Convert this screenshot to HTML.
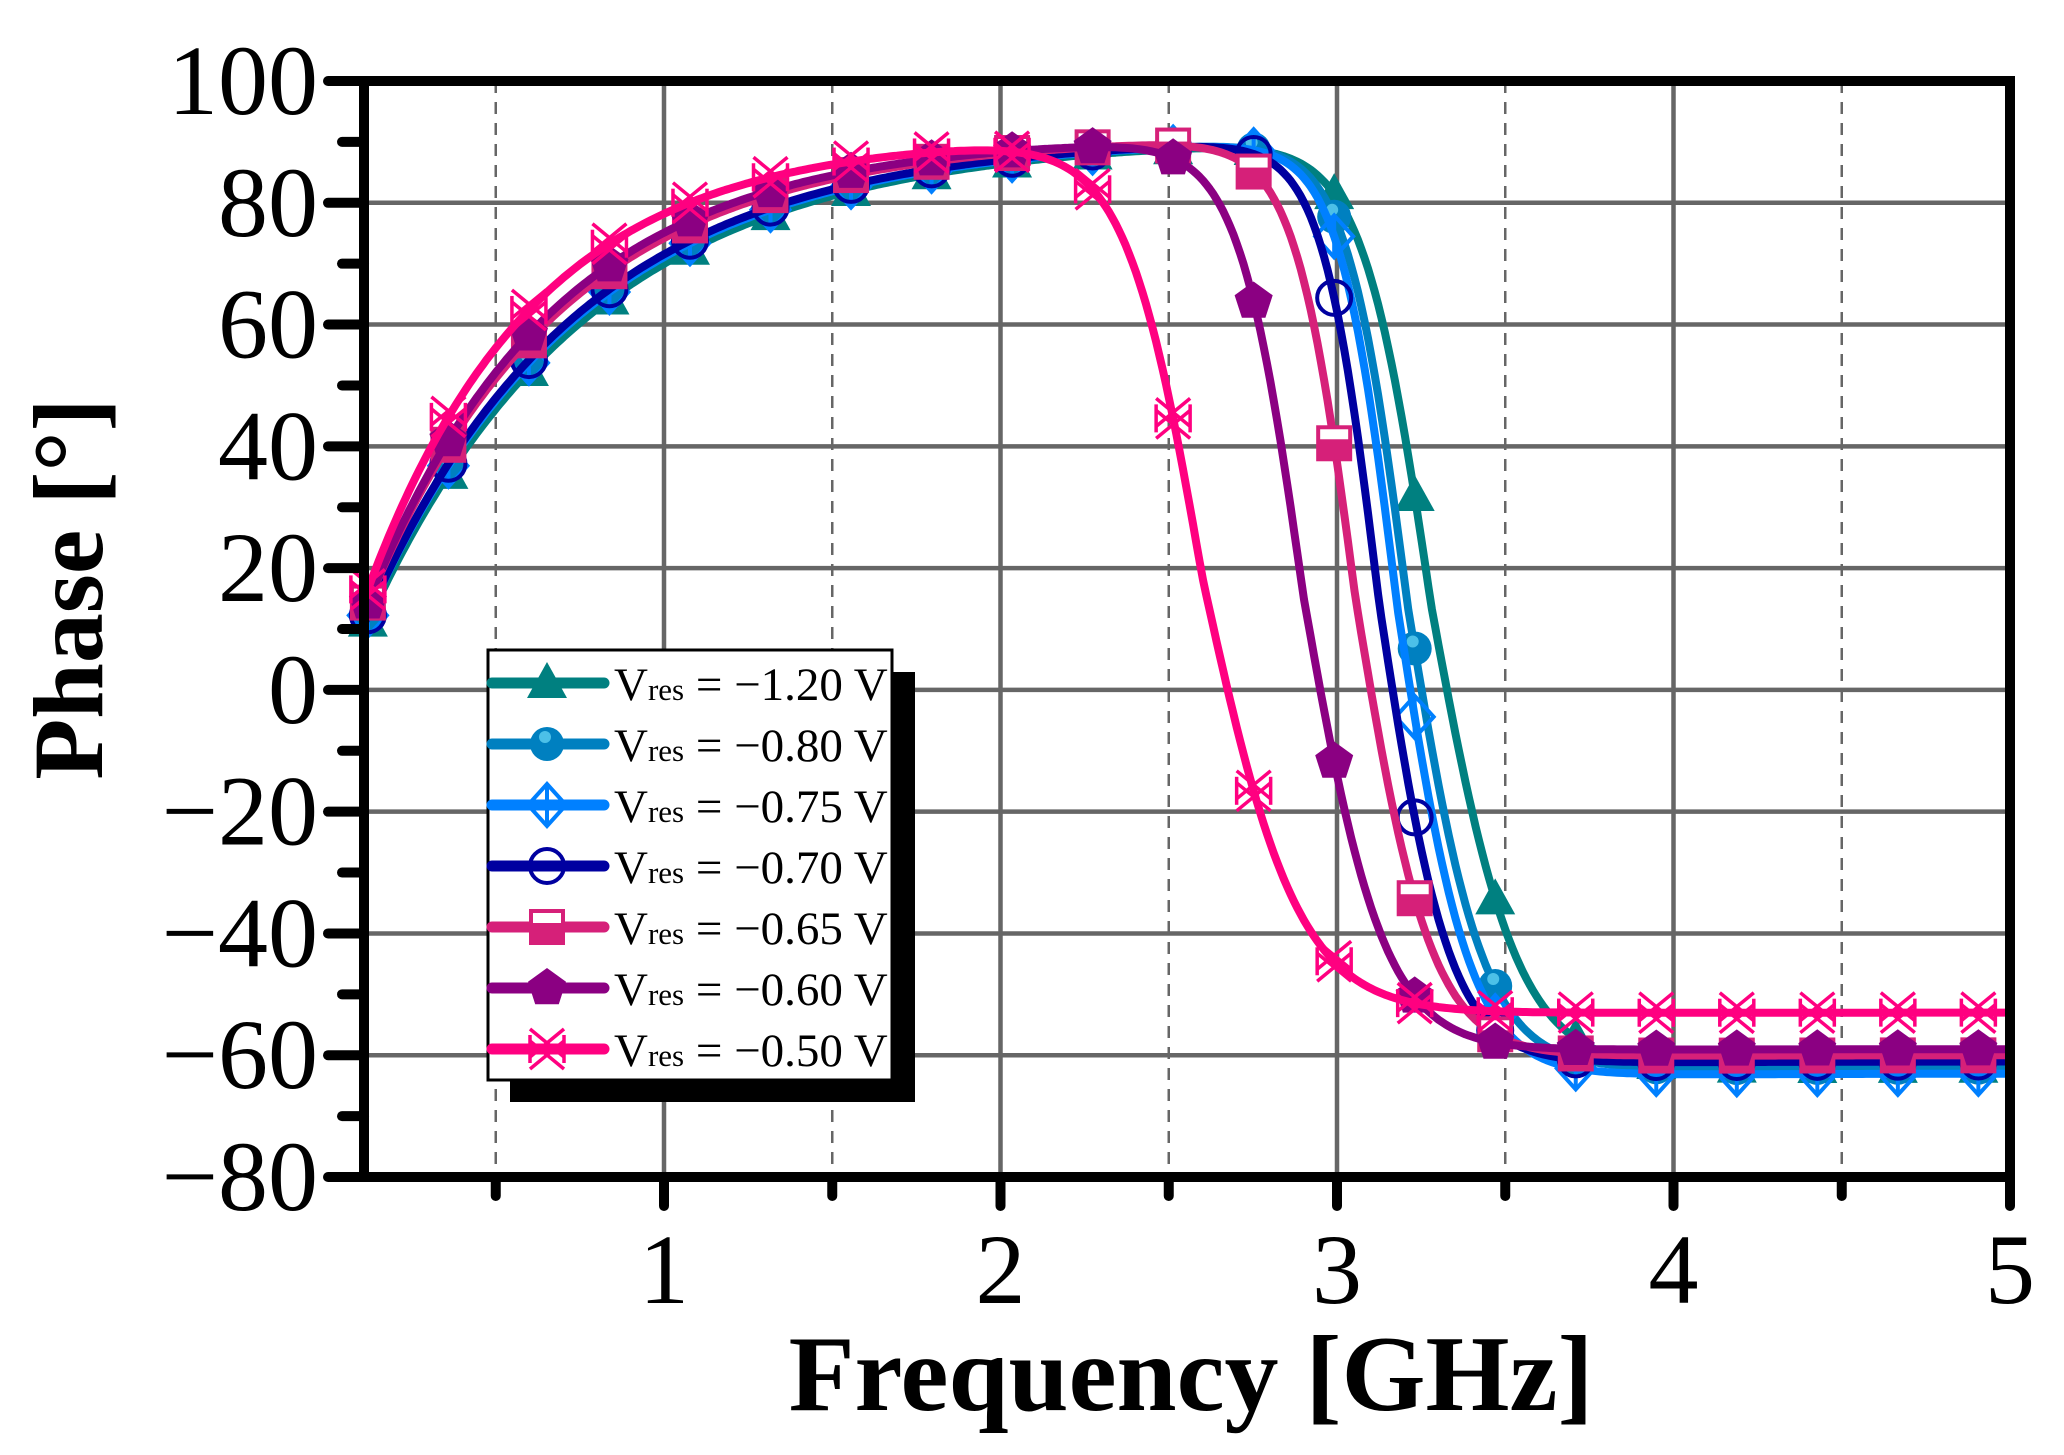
<!DOCTYPE html>
<html><head><meta charset="utf-8"><style>
html,body{margin:0;padding:0;background:#fff;}
svg{display:block;}
</style></head><body>
<svg id="s" width="2064" height="1455" xmlns="http://www.w3.org/2000/svg" font-family="'Liberation Serif', serif"></svg>
<script>
const S=document.getElementById('s');
const X0=364,X1=2010,Y0=81,Y1=1177;
const FMIN=0.112, PX=336.5;
const fx=f=>X1-(5-f)*PX;
const fy=p=>Y0+(100-p)*(Y1-Y0)/180;
let h='';
for(let v=-60;v<=80;v+=20){h+=`<line x1="${X0}" x2="${X1}" y1="${fy(v)}" y2="${fy(v)}" stroke="#666" stroke-width="4.5"/>`;}
for(let f=1;f<=4;f++){h+=`<line x1="${fx(f)}" x2="${fx(f)}" y1="${Y0}" y2="${Y1}" stroke="#666" stroke-width="4.5"/>`;}
for(let f=0.5;f<5;f+=1){h+=`<line x1="${fx(f)}" x2="${fx(f)}" y1="${Y0}" y2="${Y1}" stroke="#666" stroke-width="2.5" stroke-dasharray="12,9"/>`;}
const ser=[
 {c:'#008080',p0:10,tau:0.66,f0:3.28,w:0.085,fin:-62,m:'tri'},
 {c:'#0080c0',p0:11,tau:0.64,f0:3.21,w:0.075,fin:-62,m:'circf'},
 {c:'#0080ff',p0:11,tau:0.64,f0:3.18,w:0.072,fin:-63,m:'diam'},
 {c:'#0000a0',p0:11,tau:0.63,f0:3.125,w:0.07,fin:-61,m:'circo'},
 {c:'#d62079',p0:13,tau:0.58,f0:3.055,w:0.075,fin:-60,m:'sq'},
 {c:'#8b0082',p0:13,tau:0.56,f0:2.90,w:0.08,fin:-59,m:'pent'},
 {c:'#ff0080',p0:15,tau:0.50,f0:2.60,w:0.095,fin:-53,m:'xx'}
];
function ph(s,f){const R=91-(91-s.p0)*Math.exp(-(f-0.11)/s.tau);const A=91-s.fin;const ww=f>s.f0?s.w*1.5:s.w*1.2;return R-A/(1+Math.exp(-(f-s.f0)/ww));}
function marker(t,x,y,c){
 const r=17;
 switch(t){
 case 'tri':return `<polygon points="${x},${y-21} ${x+20},${y+15} ${x-20},${y+15}" fill="${c}"/>`;
 case 'circf':return `<circle cx="${x}" cy="${y}" r="${r}" fill="${c}"/><circle cx="${x-2}" cy="${y-7}" r="6" fill="#4cc0e8"/>`;
 case 'diam':return `<polygon points="${x},${y-21} ${x+19},${y} ${x},${y+21} ${x-19},${y}" fill="none" stroke="${c}" stroke-width="4"/><line x1="${x}" y1="${y-21}" x2="${x}" y2="${y+21}" stroke="${c}" stroke-width="4"/>`;
 case 'circo':return `<circle cx="${x}" cy="${y}" r="${r}" fill="none" stroke="${c}" stroke-width="4"/>`;
 case 'sq':return `<rect x="${x-16}" y="${y-16}" width="32" height="32" fill="#fff" stroke="${c}" stroke-width="4"/><rect x="${x-16}" y="${y-4}" width="32" height="20" fill="${c}"/>`;
 case 'pent':{let p=[];for(let i=0;i<5;i++){const a=-Math.PI/2+i*2*Math.PI/5;p.push((x+20*Math.cos(a)).toFixed(1)+','+(y+20*Math.sin(a)).toFixed(1));}return `<polygon points="${p.join(' ')}" fill="${c}"/>`;}
 case 'xx':return `<g stroke="${c}" stroke-width="3.5" fill="none"><line x1="${x-17}" y1="${y-20}" x2="${x+17}" y2="${y+8}"/><line x1="${x-17}" y1="${y-8}" x2="${x+17}" y2="${y+20}"/><line x1="${x+17}" y1="${y-20}" x2="${x-17}" y2="${y+8}"/><line x1="${x+17}" y1="${y-8}" x2="${x-17}" y2="${y+20}"/><line x1="${x-17}" y1="${y-14}" x2="${x-17}" y2="${y+14}"/><line x1="${x+17}" y1="${y-14}" x2="${x+17}" y2="${y+14}"/></g>`;
 }
}
for(const s of ser){
 let d='';
 for(let f=FMIN;f<=5.0001;f+=0.01){d+=(d?'L':'M')+fx(f).toFixed(1)+','+fy(ph(s,f)).toFixed(1);}
 h+=`<path d="${d}" fill="none" stroke="${s.c}" stroke-width="8" stroke-linejoin="round"/>`;
 for(let i=0;i<21;i++){const f=0.12+i*0.2393;h+=marker(s.m,fx(f),fy(ph(s,f)),s.c);}
}
h+=`<rect x="${X0}" y="${Y0}" width="${X1-X0}" height="${Y1-Y0}" fill="none" stroke="#000" stroke-width="10"/>`;
for(let v=-80;v<=100;v+=10){const major=v%20===0;h+=`<line x1="${major?328:342}" x2="${X0}" y1="${fy(v)}" y2="${fy(v)}" stroke="#000" stroke-width="10" stroke-linecap="round"/>`;}
for(let f=0.5;f<=5;f+=0.5){const major=Number.isInteger(f);h+=`<line x1="${fx(f)}" x2="${fx(f)}" y1="${Y1}" y2="${major?1206:1196}" stroke="#000" stroke-width="10" stroke-linecap="round"/>`;}
for(let v=-80;v<=100;v+=20){const t=v<0?'\u2212'+(-v):v;h+=`<text x="318" y="${fy(v)+33}" font-size="100" text-anchor="end">${t}</text>`;}
for(let f=1;f<=5;f++){h+=`<text x="${fx(f)}" y="1303" font-size="100" text-anchor="middle">${f}</text>`;}
h+=`<text x="1191" y="1410" font-size="108" font-weight="bold" text-anchor="middle">Frequency [GHz]</text>`;
h+=`<text transform="translate(102,589) rotate(-90)" font-size="100" font-weight="bold" text-anchor="middle">Phase [°]</text>`;
h+=`<rect x="510" y="672" width="405" height="430" fill="#000"/>`;
h+=`<rect x="488" y="650" width="404" height="430" fill="#fff" stroke="#000" stroke-width="3"/>`;
const labs=['1.20','0.80','0.75','0.70','0.65','0.60','0.50'];
ser.forEach((s,i)=>{const y=683+i*61;
 h+=`<line x1="492" x2="604" y1="${y}" y2="${y}" stroke="${s.c}" stroke-width="11" stroke-linecap="round"/>`;
 h+=marker(s.m,547,y,s.c);
 h+=`<text x="614" y="${y+17}" font-size="47">V<tspan font-size="31">res</tspan> = \u2212${labs[i]} V</text>`;
});
S.innerHTML=h;
</script>
</body></html>
